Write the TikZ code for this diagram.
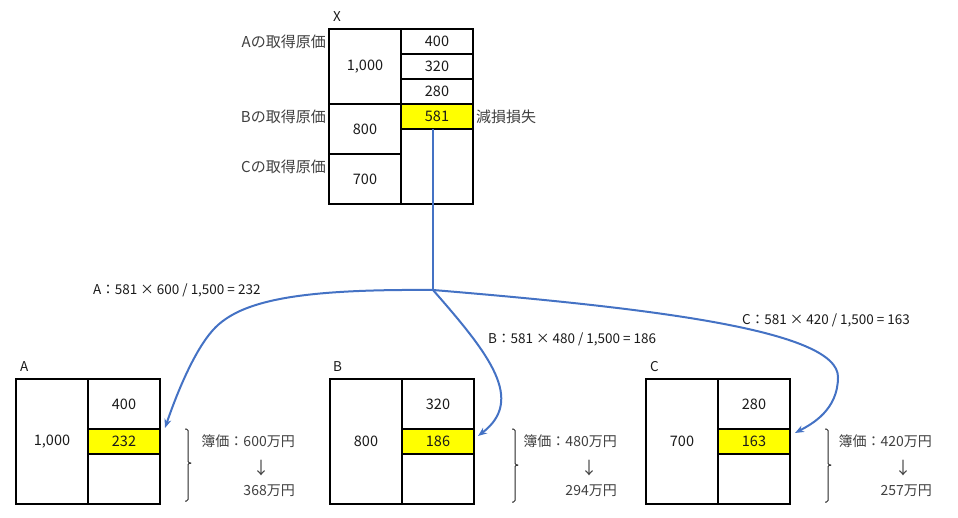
\documentclass[tikz,border=0pt]{standalone}
\usepackage{fontspec}
\setmainfont{Noto Sans CJK JP}
\usetikzlibrary{arrows.meta}
\definecolor{conn}{HTML}{4472C4}
\definecolor{hl}{HTML}{FFFF00}
\definecolor{txt}{HTML}{1A1A1A}
\definecolor{jtxt}{HTML}{404040}
\begin{document}
\begin{tikzpicture}[x=1pt,y=-1pt,
  cell/.style={draw=black,line width=1.1pt,inner sep=0pt,text=txt,font=\fontsize{14.5}{16}\selectfont},
  hlcell/.style={cell,fill=hl},
  lbl/.style={inner sep=0pt,text=txt,font=\fontsize{13.5}{16}\selectfont},
  jlbl/.style={inner sep=0pt,text=jtxt,font=\fontsize{15}{16}\selectfont},
  vlbl/.style={inner sep=0pt,text=jtxt,font=\fontsize{14}{16}\selectfont},
  arrlbl/.style={inner sep=0pt,text=jtxt,font=\fontsize{17}{18}\selectfont},
  flow/.style={draw=conn,line width=2pt},
  flowarr/.style={flow,-{Stealth[length=9pt,width=7pt]}},
  bracepath/.style={draw=black!85,line width=1pt,rounded corners=1.5pt}]
\path[use as bounding box] (0,0) rectangle (958,518);

% ---------- box X ----------
\node[lbl,anchor=west] (xt) at (333,17) {X};
\node[cell,minimum width=72pt,minimum height=75pt] (xl1) at (365,66.5) {1,000};
\node[cell,minimum width=72pt,minimum height=50pt] (xl2) at (365,129) {800};
\node[cell,minimum width=72pt,minimum height=50pt] (xl3) at (365,179) {700};
\node[cell,minimum width=72pt,minimum height=25pt] (xr1) at (437,41.5) {400};
\node[cell,minimum width=72pt,minimum height=25pt] (xr2) at (437,66.5) {320};
\node[cell,minimum width=72pt,minimum height=25pt] (xr3) at (437,91.5) {280};
\node[hlcell,minimum width=72pt,minimum height=25pt] (xr4) at (437,116.5) {581};
\node[cell,minimum width=72pt,minimum height=75pt] (xr5) at (437,166.5) {};
\node[jlbl,anchor=east] (la) at (326,42) {Aの取得原価};
\node[jlbl,anchor=east] (lb) at (326,117) {Bの取得原価};
\node[jlbl,anchor=east] (lc) at (326,167) {Cの取得原価};
\node[jlbl,anchor=west] (loss) at (476,117) {減損損失};

% ---------- box A ----------
\node[lbl,anchor=west] (at) at (20,367) {A};
\node[cell,minimum width=72pt,minimum height=125pt] (al) at (52,441.5) {1,000};
\node[cell,minimum width=72pt,minimum height=50pt] (ar1) at (124,404) {400};
\node[hlcell,minimum width=72pt,minimum height=25pt] (ar2) at (124,441.5) {232};
\node[cell,minimum width=72pt,minimum height=50pt] (ar3) at (124,479) {};

% ---------- box B ----------
\node[lbl,anchor=west] (bt) at (333,367) {B};
\node[cell,minimum width=72pt,minimum height=125pt] (bl) at (366,441.5) {800};
\node[cell,minimum width=72pt,minimum height=50pt] (br1) at (438,404) {320};
\node[hlcell,minimum width=72pt,minimum height=25pt] (br2) at (438,441.5) {186};
\node[cell,minimum width=72pt,minimum height=50pt] (br3) at (438,479) {};

% ---------- box C ----------
\node[lbl,anchor=west] (ct) at (650,367) {C};
\node[cell,minimum width=72pt,minimum height=125pt] (cl) at (682,441.5) {700};
\node[cell,minimum width=72pt,minimum height=50pt] (cr1) at (754,404) {280};
\node[hlcell,minimum width=72pt,minimum height=25pt] (cr2) at (754,441.5) {163};
\node[cell,minimum width=72pt,minimum height=50pt] (cr3) at (754,479) {};

% ---------- connectors ----------
\coordinate (j0) at (433,129);
\coordinate (j) at (433,290);
\coordinate (tA) at (165,428);
\coordinate (tB) at (478,436);
\coordinate (tC) at (795,433);
\draw[flow] (j0) -- (j);
\draw[flowarr] (j) .. controls (300,289) and (240,300) .. (213,330)
  .. controls (195,350) and (178,390) .. (tA);
\draw[flowarr] (j) .. controls (490,355) and (525,400) .. (tB);
\draw[flowarr] (j) .. controls (650,308) and (838,330) .. (838,377)
  .. controls (838,410) and (812,424) .. (tC);

\node[lbl,anchor=west] (fa) at (93,290) {A：581 × 600 / 1,500 = 232};
\node[lbl,anchor=west] (fb) at (488,339) {B：581 × 480 / 1,500 = 186};
\node[lbl,anchor=west] (fc) at (742,320) {C：581 × 420 / 1,500 = 163};

% ---------- braces and book values ----------
\draw[bracepath] (185,429) -- (188,429) -- (188,463) -- (191,463);
\draw[bracepath] (191,463) -- (188,463) -- (188,501) -- (185,501);
\node[vlbl,anchor=east] (va1) at (295,441) {簿価：600万円};
\node[arrlbl] (va2) at (261,468) {↓};
\node[vlbl,anchor=east] (va3) at (295,491) {368万円};

\draw[bracepath] (512,429) -- (515,429) -- (515,465) -- (518,465);
\draw[bracepath] (518,465) -- (515,465) -- (515,502) -- (512,502);
\node[vlbl,anchor=east] (vb1) at (617,441) {簿価：480万円};
\node[arrlbl] (vb2) at (589,468) {↓};
\node[vlbl,anchor=east] (vb3) at (617,491) {294万円};

\draw[bracepath] (825,429) -- (828,429) -- (828,465) -- (831,465);
\draw[bracepath] (831,465) -- (828,465) -- (828,502) -- (825,502);
\node[vlbl,anchor=east] (vc1) at (932,441) {簿価：420万円};
\node[arrlbl] (vc2) at (903,468) {↓};
\node[vlbl,anchor=east] (vc3) at (932,491) {257万円};
\end{tikzpicture}
\end{document}
